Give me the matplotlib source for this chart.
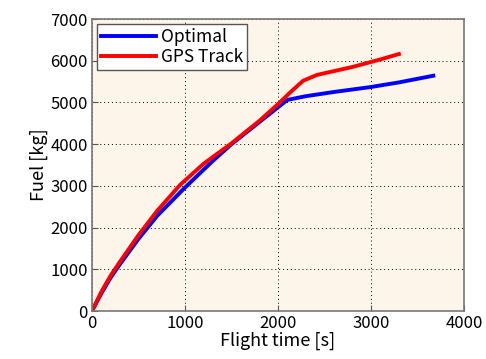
import numpy as np
import matplotlib.pyplot as plt

plt.rcParams['font.family'] = ['Noto Sans CJK JP', 'DejaVu Sans']

# Optimal trajectory
t_opt = [0, 100, 200, 300, 500, 700, 1000, 1300, 1500, 1800, 2100, 2300, 2600, 3000, 3300, 3670]
f_opt = [0, 420, 800, 1120, 1730, 2280, 2960, 3600, 4000, 4530, 5060, 5150, 5250, 5370, 5480, 5640]

# GPS track
t_gps = [0, 100, 200, 300, 500, 700, 950, 1200, 1500, 1800, 2000, 2150, 2270, 2420, 2600, 2800, 2950, 3100, 3300]
f_gps = [0, 460, 850, 1180, 1820, 2400, 3030, 3530, 4020, 4560, 4960, 5280, 5520, 5660, 5750, 5850, 5940, 6030, 6160]

fig = plt.figure(figsize=(4.86, 3.59), dpi=100)
ax = fig.add_axes([92/486, 48/359, 372/486, 292/359])
ax.set_facecolor('#fdf5ea')

ax.plot(t_opt, f_opt, color='#0000ff', lw=2.8, label='Optimal')
ax.plot(t_gps, f_gps, color='#ff0000', lw=2.8, label='GPS Track')

ax.set_xlim(0, 4000)
ax.set_ylim(0, 7000)
ax.set_xticks([0, 1000, 2000, 3000, 4000])
ax.set_yticks(range(0, 7001, 1000))
ax.grid(True, color='black', linestyle=(0, (1, 3)), lw=0.7)
ax.tick_params(direction='in', labelsize=12, length=4, color='#555555', pad=3)
for s in ax.spines.values():
    s.set_color('#777777')
    s.set_linewidth(1.2)

ax.set_xlabel('Flight time [s]', fontsize=13, labelpad=0)
ax.set_ylabel('Fuel [kg]', fontsize=13, labelpad=2)

leg = ax.legend(loc='upper left', fontsize=12.5, handlelength=3.2, fancybox=False,
                framealpha=1, edgecolor='#555555', borderaxespad=0.3,
                borderpad=0.2, labelspacing=0.15, handletextpad=0.3)
leg.get_frame().set_linewidth(1.0)

fig.savefig('out.png', dpi=100)
